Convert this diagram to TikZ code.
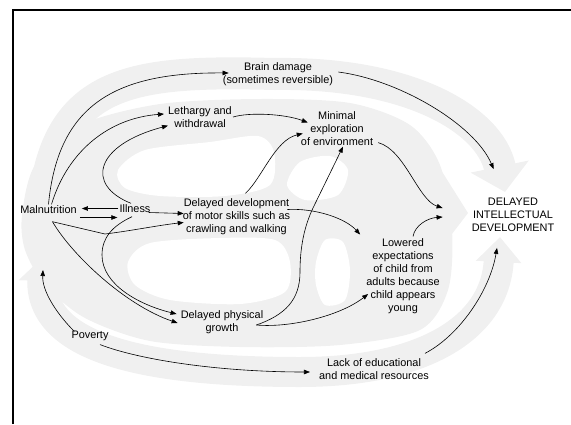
\documentclass[tikz,border=0pt]{standalone}
\usepackage{fontspec}
\setmainfont{Liberation Sans}
\usetikzlibrary{arrows.meta,calc}
\tikzset{
	lbl/.style={align=center, font=\fontsize{10.9}{12.9}\selectfont, inner sep=1pt},
	link/.style={draw, line width=0.6pt, -{Triangle[length=6pt,width=4.5pt]}},
	band/.style={black!6},
	hole/.style={white}
}
\begin{document}
\begin{tikzpicture}[x=1pt,y=-1pt]
	\useasboundingbox (0,0) rectangle (571,424);
	\fill [band] plot [smooth cycle] coordinates {(22,215) (35,165) (80,125) (160,104) (260,99) (350,103) (410,125) (440,165) (452,230) (448,290) (420,330) (340,345) (240,347) (150,341) (85,318) (45,285) (25,250)};
	\fill [band] (436,162) -- (468,213) -- (436,255) -- cycle;
	\fill [hole] plot [smooth cycle] coordinates {(118,170) (145,150) (210,142) (258,136) (274,152) (270,185) (225,196) (160,196) (125,188)};
	\fill [hole] plot [smooth cycle] coordinates {(128,262) (150,243) (220,238) (275,240) (290,262) (285,292) (240,304) (170,300) (135,285)};
	\fill [hole] plot [smooth cycle] coordinates {(287,185) (300,162) (330,156) (348,170) (338,195) (305,200)};
	\fill [hole] plot [smooth cycle] coordinates {(316,262) (325,240) (343,242) (350,270) (345,300) (325,305) (316,285)};
	\draw [band, line width=32pt, -{Triangle[width=58pt,length=26pt]}] (42,245) .. controls (42,80) and (120,70) .. (275,74) .. controls (410,72) and (490,120) .. (505,192);
	\draw [band, line width=30pt, {Triangle[width=46pt,length=24pt]}-{Triangle[width=44pt,length=25pt]}] (43,257) .. controls (40,350) and (150,372) .. (300,372) .. controls (420,372) and (495,330) .. (500,237);
	\draw [line width=2.2pt] (13,424) -- (13,10) -- (571,10);

	\node [lbl] (brain) at (278,74) {Brain damage\\(sometimes reversible)};
	\node [lbl] (lethargy) at (200,117) {Lethargy and\\withdrawal};
	\node [lbl] (minimal) at (337,128.5) {Minimal\\exploration\\of environment};
	\node [lbl] (malnut) at (48.5,209.5) {Malnutrition};
	\node [lbl] (illness) at (135,208.5) {Illness};
	\node [lbl] (motor) at (236.5,216.5) {Delayed development\\of motor skills such as\\crawling and walking};
	\node [lbl] (delayed) at (513,215) {DELAYED\\INTELLECTUAL\\DEVELOPMENT};
	\node [lbl] (lowered) at (403,276) {Lowered\\expectations\\of child from\\adults because\\child appears\\young};
	\node [lbl] (physical) at (222,322) {Delayed physical\\growth};
	\node [lbl] (poverty) at (90,335.5) {Poverty};
	\node [lbl] (lack) at (374,369) {Lack of educational\\and medical resources};
	\coordinate (povhead) at (43,270);

	\draw [link] (malnut.north) .. controls (58,105) and (115,72) .. ($(brain.west)+(7,-1)$);
	\draw [link] ($(brain.east)+(4,-2)$) .. controls (400,80) and (475,125) .. ($(delayed.north west)+(23,-28)$);
	\draw [link] ($(malnut.north)+(3,0)$) .. controls (68,150) and (110,118) .. ($(lethargy.west)+(-3,-3)$);
	\draw [link] ($(illness.north)+(-4,0)$) .. controls (85,185) and (95,145) .. ($(lethargy.south west)+(1,-3)$);
	\draw [link] (lethargy.east) .. controls (250,112) and (285,114) .. ($(minimal.west)+(8,-6)$);
	\draw [link] ($(motor.north)+(9,-4)$) .. controls (262,178) and (275,140) .. ($(minimal.west)+(3,5)$);
	\draw [link] (illness.west) -- ($(malnut.east)+(4,-1)$);
	\draw [link] ($(malnut.east)+(2,8)$) -- ($(illness.west)+(-1,9)$);
	\draw [link] ($(illness.east)+(-3,4)$) -- ($(motor.west)+(2,-3)$);
	\draw [link] ($(malnut.south)+(4,7)$) -- (105,234) .. controls (130,231) and (160,225) .. ($(motor.west)+(2,6)$);
	\draw [link] ($(illness.south)+(-3,3)$) .. controls (112,226) and (102,238) .. (102,255) .. controls (102,285) and (140,305) .. ($(physical.west)+(-3,-8)$);
	\draw [link] ($(malnut.south)+(4,7)$) .. controls (72,255) and (125,305) .. ($(physical.west)+(-2,1)$);
	\draw [link] ($(motor.east)+(-4,-7)$) .. controls (315,208) and (345,218) .. ($(lowered.north west)+(-5,-3)$);
	\draw [link] ($(physical.east)+(-8,3)$) .. controls (285,315) and (300,300) .. (300,272) .. controls (300,245) and (305,225) .. (313,208) -- ($(minimal.south)+(6,0)$);
	\draw [link] ($(physical.east)+(-8,3)$) .. controls (290,328) and (340,316) .. ($(lowered.west)+(3,18)$);
	\draw [link] ($(minimal.south east)+(4,-4)$) .. controls (405,150) and (418,200) .. ($(delayed.west)+(-28,-7)$);
	\draw [link] ($(lowered.north)+(10,-1)$) .. controls (415,225) and (428,218) .. ($(delayed.west)+(-28,2)$);
	\draw [link] ($(poverty.north west)+(4,2)$) .. controls (55,312) and (42,290) .. (povhead);
	\draw [link] ($(poverty.south)+(10,3)$) .. controls (140,360) and (220,372) .. ($(lack.west)+(-8,3)$);
	\draw [link] ($(lack.north east)+(-5,-4)$) .. controls (460,335) and (490,290) .. ($(delayed.south)+(-16,15)$);
\end{tikzpicture}
\end{document}
